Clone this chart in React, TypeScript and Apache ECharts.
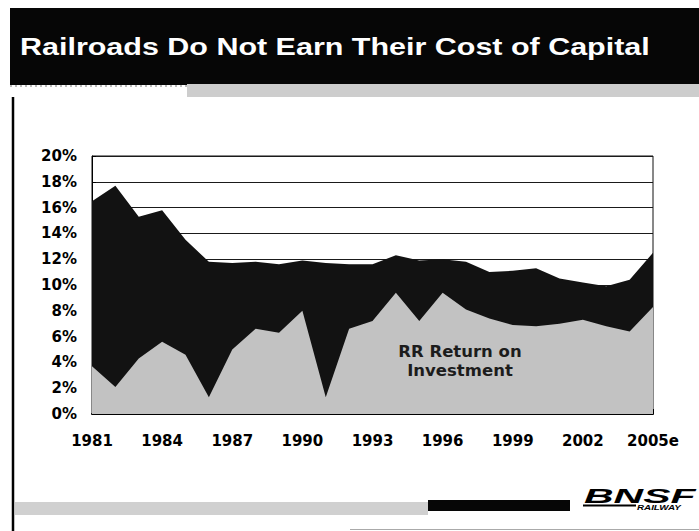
import React, { useEffect, useRef } from "react";
import * as echarts from "echarts";

const years = [
  "1981", "1982", "1983", "1984", "1985", "1986", "1987", "1988", "1989", "1990",
  "1991", "1992", "1993", "1994", "1995", "1996", "1997", "1998", "1999", "2000",
  "2001", "2002", "2003", "2004", "2005e",
];
const costOfCapital = [
  16.5, 17.7, 15.3, 15.8, 13.5, 11.8, 11.7, 11.8, 11.6, 11.9,
  11.7, 11.6, 11.6, 12.3, 11.9, 12.0, 11.8, 11.0, 11.1, 11.3,
  10.5, 10.2, 9.9, 10.4, 12.5,
];
const rrReturn = [
  3.7, 2.1, 4.3, 5.6, 4.6, 1.3, 5.0, 6.6, 6.3, 8.0,
  1.3, 6.6, 7.2, 9.4, 7.2, 9.4, 8.1, 7.4, 6.9, 6.8,
  7.0, 7.3, 6.8, 6.4, 8.3,
];
const title = "Railroads Do Not Earn Their Cost of Capital";
const annotation = "RR Return on\nInvestment";

export default function App() {
  const ref = useRef<HTMLDivElement>(null);
  useEffect(() => {
    if (!ref.current) return;
    const chart = echarts.init(ref.current, undefined, { renderer: "svg" });
    const axisFont = { fontFamily: "DejaVu Sans", fontWeight: "bold" as const, fontSize: 15, color: "#000" };
    chart.setOption({
      animation: false,
      backgroundColor: "#fff",
      grid: { left: 92, right: 46, top: 156, bottom: 117, show: true, borderColor: "#111", borderWidth: 1 },
      xAxis: {
        type: "category",
        data: years,
        boundaryGap: false,
        axisLine: { lineStyle: { color: "#000", width: 2 } },
        axisTick: { show: true, inside: true, length: 5, interval: 0, lineStyle: { color: "#000" } },
        axisLabel: { ...axisFont, interval: 2, margin: 19 },
        splitLine: { show: false },
      },
      yAxis: {
        type: "value",
        min: 0,
        max: 20,
        interval: 2,
        axisLine: { show: true, lineStyle: { color: "#000", width: 1 } },
        axisTick: { show: true, inside: true, length: 4, lineStyle: { color: "#000" } },
        axisLabel: { ...axisFont, margin: 15, formatter: "{value}%" },
        splitLine: { show: true, lineStyle: { color: "#1a1a1a", width: 1 } },
      },
      series: [
        {
          name: "Cost of Capital",
          type: "line",
          data: costOfCapital,
          symbol: "none",
          lineStyle: { width: 0 },
          areaStyle: { color: "#121212", opacity: 1 },
          z: 2,
        },
        {
          name: "RR Return on Investment",
          type: "line",
          data: rrReturn,
          symbol: "none",
          lineStyle: { width: 0 },
          areaStyle: { color: "#c2c2c2", opacity: 1 },
          z: 3,
        },
      ],
      graphic: [
        { type: "rect", shape: { x: 10, y: 8, width: 689, height: 77 }, style: { fill: "#060606" }, z: 10 },
        { type: "rect", shape: { x: 187, y: 84, width: 512, height: 13 }, style: { fill: "#cdcdcd" }, z: 10 },
        { type: "line", shape: { x1: 10, y1: 86, x2: 187, y2: 86 }, style: { stroke: "#777", lineWidth: 1, lineDash: [2, 3] }, z: 10 },
        {
          type: "text",
          x: 20,
          y: 47,
          scaleX: 1.27,
          style: {
            text: title,
            fontFamily: "Liberation Sans, Arial, sans-serif",
            fontWeight: "bold",
            fontSize: 24,
            fill: "#fff",
            align: "left",
            verticalAlign: "middle",
            textAlign: "left",
            textVerticalAlign: "middle",
          },
          z: 11,
        },
        { type: "line", shape: { x1: 13, y1: 97, x2: 13, y2: 531 }, style: { stroke: "#000", lineWidth: 2.5 }, z: 10 },
        { type: "rect", shape: { x: 15, y: 502, width: 413, height: 13 }, style: { fill: "#d0d0d0" }, z: 10 },
        { type: "rect", shape: { x: 428, y: 500, width: 142, height: 11 }, style: { fill: "#060606" }, z: 10 },
        { type: "line", shape: { x1: 350, y1: 529.5, x2: 699, y2: 529.5 }, style: { stroke: "#aaa", lineWidth: 1 }, z: 10 },
        {
          type: "text",
          x: 584,
          y: 496,
          scaleX: 1.95,
          style: {
            text: "BNSF",
            fontFamily: "Liberation Sans, Arial, sans-serif",
            fontWeight: "bold",
            fontStyle: "italic",
            fontSize: 21,
            fill: "#000",
            align: "left",
            verticalAlign: "middle",
            textAlign: "left",
            textVerticalAlign: "middle",
          },
          z: 11,
        },
        { type: "line", shape: { x1: 583, y1: 505.5, x2: 636, y2: 505.5 }, style: { stroke: "#000", lineWidth: 2 }, z: 11 },
        {
          type: "text",
          x: 637,
          y: 508,
          scaleX: 1.4,
          style: {
            text: "RAILWAY",
            fontFamily: "Liberation Sans, Arial, sans-serif",
            fontWeight: "bold",
            fontStyle: "italic",
            fontSize: 7,
            fill: "#000",
            align: "left",
            verticalAlign: "middle",
            textAlign: "left",
            textVerticalAlign: "middle",
          },
          z: 11,
        },
        {
          type: "text",
          x: 460,
          y: 361,
          style: {
            text: annotation,
            fontFamily: "DejaVu Sans",
            fontWeight: "bold",
            fontSize: 16.5,
            lineHeight: 19,
            fill: "#1c1c1c",
            align: "center",
            verticalAlign: "middle",
            textAlign: "center",
            textVerticalAlign: "middle",
          },
          z: 11,
        },
      ],
    });
    return () => chart.dispose();
  }, []);
  return <div ref={ref} style={{ position: "absolute", left: 0, top: 0, width: 699, height: 531 }} />;
}
